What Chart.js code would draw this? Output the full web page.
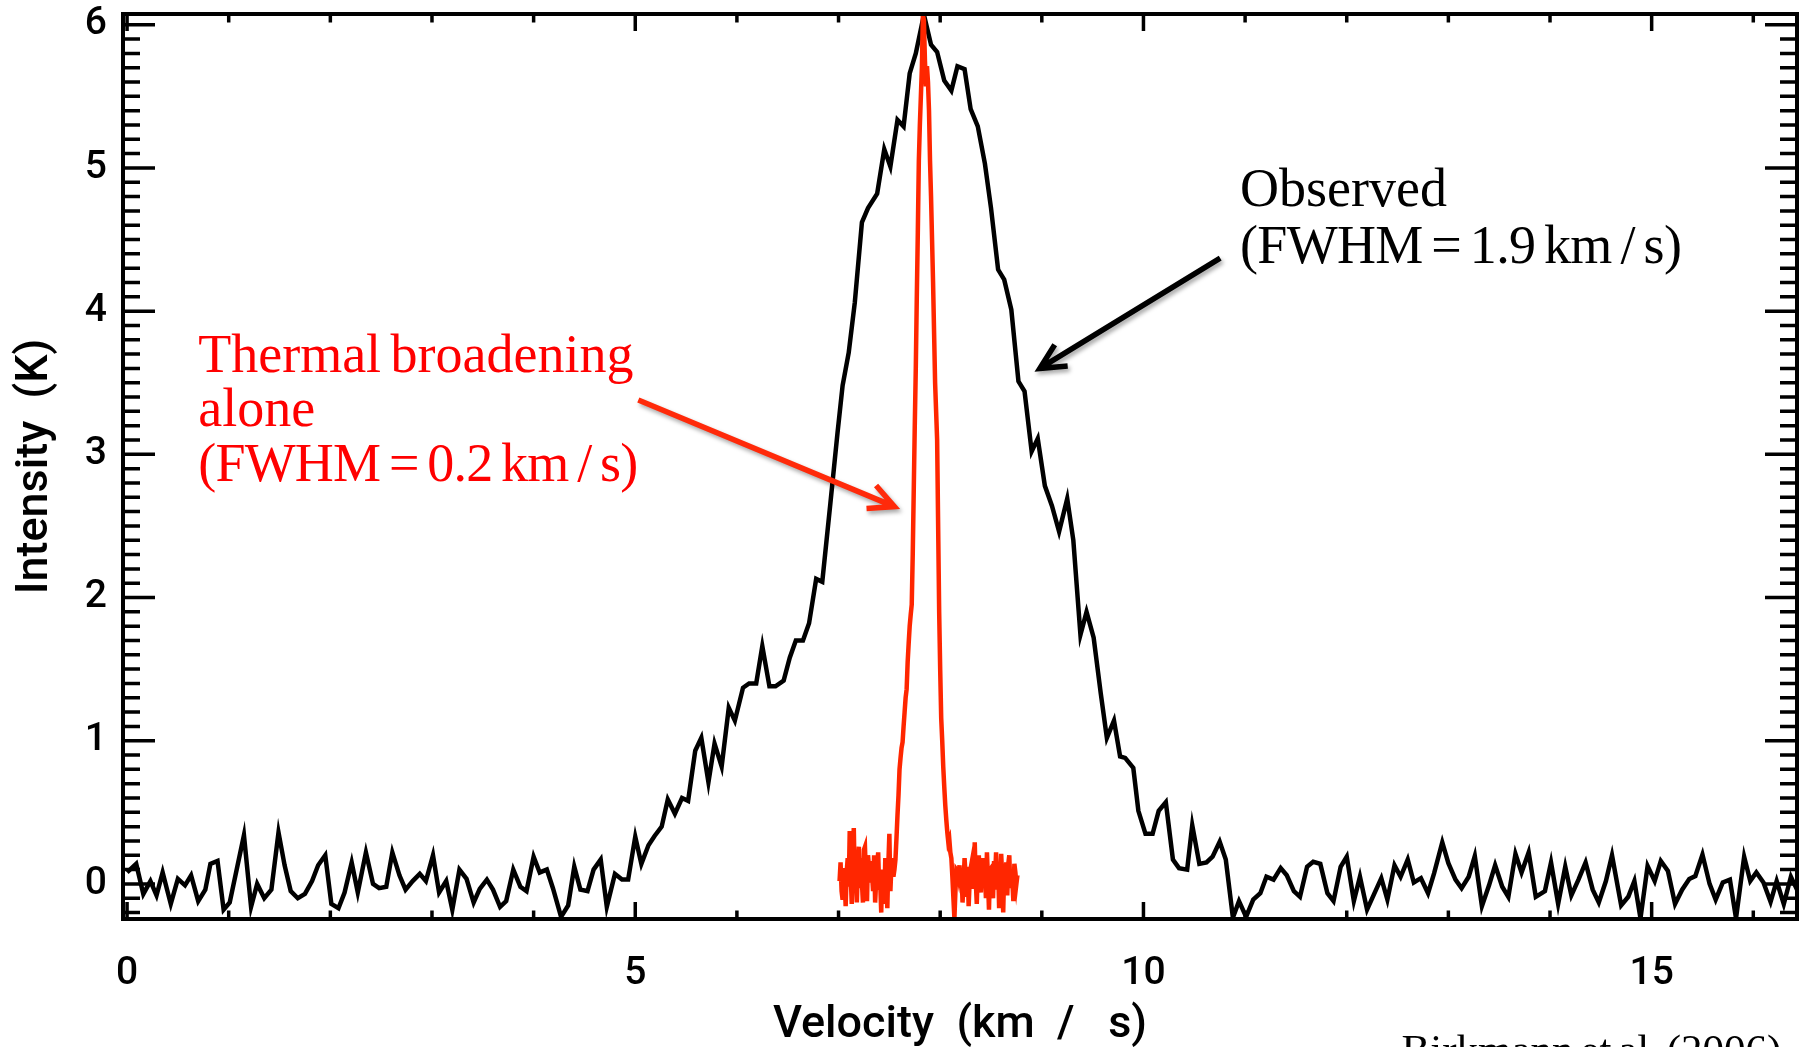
<!DOCTYPE html>
<html>
<head>
<meta charset="utf-8">
<title>Observed line vs thermal broadening</title>
<script src="https://cdn.jsdelivr.net/npm/chart.js@4.4.1/dist/chart.umd.min.js"></script>
<style>
  html, body { margin: 0; padding: 0; background: #fff; }
  #wrap { width: 1808px; height: 1047px; position: relative; }
</style>
</head>
<body>
<div id="wrap"><canvas id="spec"></canvas></div>
<script>
// observed spectrum (velocity km/s, intensity K)
const obsVel = [
  0.00,0.09,0.16,0.23,0.29,0.35,0.43,0.50,0.57,0.63,0.70,0.77,0.82,0.89,0.95,1.01,1.15,1.22,1.28,1.35,
  1.42,1.49,1.55,1.61,1.68,1.75,1.82,1.88,1.95,2.01,2.08,2.14,2.21,2.27,2.35,2.42,2.48,2.55,2.61,2.68,
  2.74,2.81,2.88,2.94,3.01,3.07,3.14,3.20,3.27,3.34,3.41,3.47,3.54,3.60,3.67,3.73,3.80,3.87,3.93,4.00,
  4.06,4.13,4.19,4.27,4.34,4.40,4.46,4.53,4.59,4.66,4.72,4.80,4.87,4.93,5.00,5.06,5.13,5.19,5.26,5.32,
  5.39,5.46,5.52,5.59,5.65,5.72,5.78,5.85,5.92,5.98,6.06,6.12,6.19,6.25,6.32,6.38,6.46,6.52,6.58,6.65,
  6.71,6.78,6.84,6.92,6.99,7.04,7.10,7.16,7.23,7.29,7.38,7.45,7.51,7.58,7.64,7.70,7.76,7.84,7.91,7.97,
  8.04,8.11,8.17,8.24,8.30,8.37,8.44,8.50,8.57,8.63,8.70,8.77,8.83,8.90,8.96,9.03,9.10,9.17,9.25,9.31,
  9.38,9.44,9.51,9.58,9.64,9.71,9.77,9.82,9.90,9.95,10.02,10.09,10.15,10.22,10.29,10.35,10.43,10.48,10.55,10.62,
  10.68,10.75,10.81,10.88,10.94,11.01,11.08,11.15,11.21,11.28,11.35,11.41,11.48,11.54,11.61,11.67,11.74,11.81,11.87,11.94,
  12.00,12.07,12.13,12.20,12.27,12.34,12.40,12.47,12.53,12.60,12.66,12.73,12.80,12.86,12.94,13.00,13.07,13.13,13.20,13.26,
  13.33,13.40,13.46,13.53,13.59,13.66,13.72,13.79,13.86,13.95,14.01,14.08,14.15,14.21,14.28,14.35,14.42,14.48,14.55,14.61,
  14.70,14.77,14.83,14.89,14.96,15.03,15.09,15.16,15.23,15.30,15.37,15.43,15.50,15.57,15.63,15.70,15.77,15.83,15.91,15.97,
  16.03,16.10,16.17,16.23,16.30,16.37,16.43
];
const obsInt = [
  0.08,0.14,-0.07,0.02,-0.08,0.08,-0.14,0.035,-0.01,0.06,-0.12,-0.04,0.14,0.16,-0.18,-0.13,0.34,-0.16,0.00,-0.10,
  -0.04,0.36,0.13,-0.05,-0.10,-0.07,0.02,0.13,0.20,-0.14,-0.17,-0.06,0.15,-0.06,0.22,0.00,-0.03,-0.02,0.22,0.06,
  -0.04,0.02,0.07,0.02,0.20,-0.06,0.02,-0.18,0.10,0.035,-0.13,-0.035,0.03,-0.04,-0.16,-0.12,0.10,-0.02,-0.05,0.19,
  0.08,0.10,-0.03,-0.23,-0.15,0.12,-0.04,-0.05,0.10,0.17,-0.16,0.07,0.03,0.03,0.33,0.14,0.27,0.335,0.40,0.59,
  0.49,0.60,0.58,0.93,1.02,0.71,0.98,0.82,1.23,1.14,1.37,1.40,1.40,1.66,1.38,1.38,1.42,1.58,1.70,1.70,
  1.82,2.13,2.11,2.66,3.15,3.48,3.71,4.06,4.62,4.72,4.82,5.13,5.01,5.335,5.29,5.66,5.80,6.07,5.86,5.81,
  5.61,5.54,5.71,5.69,5.41,5.29,5.03,4.72,4.29,4.22,4.01,3.51,3.44,3.02,3.11,2.78,2.64,2.46,2.69,2.40,
  1.74,1.90,1.72,1.33,1.02,1.14,0.89,0.88,0.81,0.51,0.35,0.35,0.51,0.57,0.17,0.11,0.10,0.41,0.14,0.15,
  0.19,0.295,0.17,-0.235,-0.12,-0.23,-0.11,-0.065,0.05,0.03,0.11,0.06,-0.05,-0.09,0.12,0.155,0.14,-0.065,-0.12,0.12,
  0.19,-0.12,0.05,-0.18,-0.07,0.04,-0.11,0.13,0.05,0.17,0.01,0.04,-0.065,0.075,0.29,0.145,0.03,-0.03,0.05,0.195,
  -0.155,-0.01,0.13,-0.02,-0.09,0.21,0.08,0.22,-0.09,-0.05,0.15,-0.14,0.12,-0.08,0.03,0.15,-0.04,-0.13,0.02,0.20,
  -0.15,-0.09,0.02,-0.24,0.125,0.02,0.16,0.09,-0.14,-0.04,0.035,0.055,0.205,0.00,-0.11,0.01,0.03,-0.24,0.19,0.02,
  0.08,0.01,-0.125,0.02,-0.14,0.05,-0.04
];

// thermal-only profile: channels start at 7.01 km/s, 0.01 km/s apart
const thermalStart = 7.01;
const thermalStep = 0.01;
const thermalInt = [
  // 7.01 - 7.55
  0.02,0.15,-0.05,-0.11,0.11,0.03,-0.155,0.08,0.18,-0.02,
  0.37,0.05,-0.14,0.2,0.39,0.0,0.06,-0.13,0.12,0.26,
  -0.03,0.18,0.01,-0.13,0.24,0.26,0.04,-0.12,0.2,0.11,
  0.01,0.16,0.06,-0.05,0.2,-0.13,0.02,0.13,0.22,-0.04,
  0.01,-0.2,0.1,0.06,-0.14,0.18,0.03,-0.17,0.14,0.35,
  -0.05,0.12,0.18,0.05,0.1,
  // 7.56 - 8.17
  0.17,0.32,0.48,0.62,0.80,0.88,0.95,0.99,1.10,1.20,
  1.30,1.36,1.55,1.68,1.80,1.88,1.95,2.30,2.75,3.20,
  3.60,4.10,4.55,5.05,5.30,5.50,5.70,6.07,6.03,5.75,
  5.57,5.71,5.60,5.40,5.05,4.80,4.50,4.20,3.85,3.50,
  3.30,3.10,2.50,1.90,1.50,1.16,1.00,0.82,0.68,0.55,
  0.45,0.36,0.29,0.31,0.22,0.18,0.05,-0.10,-0.24,-0.05,
  0.10,0.09,
  // 8.18 - 8.76
  0.05,0.13,-0.02,0.08,-0.13,0.01,0.18,0.06,-0.09,0.12,
  -0.155,0.02,0.11,0.15,-0.035,0.05,0.29,0.02,-0.14,0.1,
  0.2,0.06,-0.06,0.12,0.18,-0.02,0.08,-0.1,0.22,0.04,
  -0.18,0.1,0.11,0.0,-0.1,0.16,0.05,0.22,-0.04,0.12,
  -0.17,0.02,0.21,0.06,-0.2,0.1,0.04,0.15,-0.08,0.14,
  0.2,-0.03,0.1,0.02,-0.12,0.14,0.08,0.0,0.06
];

const xMajorTicks = [0, 5, 10, 15];
const yMajorTicks = [0, 1, 2, 3, 4, 5, 6];

// annotation text, anchored in data coordinates
const notes = [
  { text: 'Thermal broadening', x: 0.70, y: 3.575, color: '#ff0000', size: 54, tight: 0 },
  { text: 'alone', x: 0.70, y: 3.198, color: '#ff0000', size: 54, tight: 0 },
  { text: '(FWHM = 0.2 km / s)', x: 0.70, y: 2.814, color: '#ff0000', size: 54, tight: 0.8 },
  { text: 'Observed', x: 10.95, y: 4.735, color: '#000000', size: 54, tight: 0 },
  { text: '(FWHM = 1.9 km / s)', x: 10.95, y: 4.337, color: '#000000', size: 54, tight: 0.7 },
  { text: 'Birkmann et al. (2006)', x: 12.54, y: -1.257, color: '#000000', size: 43, tight: 0 }
];
const arrows = [
  { from: [5.03, 3.38], to: [7.55, 2.635], color: '#ff2a0a' },
  { from: [10.755, 4.37], to: [8.98, 3.60], color: '#000000' }
];

const obsPoints = obsVel.map((v, i) => ({ x: v, y: obsInt[i] }));
const thermalPoints = thermalInt.map((t, i) => ({ x: thermalStart + i * thermalStep, y: t }));

// IDL-style box with inward ticks on all four sides
const frameTicks = {
  id: 'frameTicks',
  afterDatasetsDraw(chart) {
    const { ctx, chartArea: a, scales: { x, y } } = chart;
    ctx.save();
    ctx.strokeStyle = '#000';
    ctx.lineWidth = 3.5;
    ctx.beginPath();
    for (let v = 0; v <= 16; v++) {
      const px = x.getPixelForValue(v);
      const len = v % 5 === 0 ? 17 : 8.5;
      ctx.moveTo(px, a.bottom); ctx.lineTo(px, a.bottom - len);
      ctx.moveTo(px, a.top); ctx.lineTo(px, a.top + len);
    }
    for (let k = -2; k <= 60; k++) {
      const py = y.getPixelForValue(k / 10);
      const len = k % 10 === 0 ? 32 : 17;
      ctx.moveTo(a.left, py); ctx.lineTo(a.left + len, py);
      ctx.moveTo(a.right, py); ctx.lineTo(a.right - len, py);
    }
    ctx.stroke();
    ctx.lineWidth = 4;
    ctx.strokeRect(a.left, a.top, a.right - a.left, a.bottom - a.top);
    ctx.restore();
  }
};

const callouts = {
  id: 'callouts',
  afterDraw(chart) {
    const { ctx, scales: { x, y } } = chart;
    ctx.save();
    ctx.textBaseline = 'alphabetic';
    ctx.textAlign = 'left';
    if ('wordSpacing' in ctx) ctx.wordSpacing = '-4px';
    notes.forEach(n => {
      ctx.font = n.size + 'px "Liberation Serif", "DejaVu Serif", serif';
      if ('letterSpacing' in ctx) ctx.letterSpacing = (-n.tight) + 'px';
      ctx.fillStyle = n.color;
      ctx.fillText(n.text, x.getPixelForValue(n.x), y.getPixelForValue(n.y));
    });
    arrows.forEach(ar => {
      const x0 = x.getPixelForValue(ar.from[0]), y0 = y.getPixelForValue(ar.from[1]);
      const x1 = x.getPixelForValue(ar.to[0]), y1 = y.getPixelForValue(ar.to[1]);
      const back = Math.atan2(y0 - y1, x0 - x1);
      const head = 28, spread = 0.46;
      ctx.shadowColor = 'rgba(0,0,0,0.35)';
      ctx.shadowBlur = 4;
      ctx.shadowOffsetX = 2;
      ctx.shadowOffsetY = 3;
      ctx.strokeStyle = ar.color;
      ctx.lineWidth = 5.5;
      ctx.lineCap = 'butt';
      ctx.lineJoin = 'miter';
      ctx.beginPath();
      ctx.moveTo(x0, y0); ctx.lineTo(x1, y1);
      ctx.moveTo(x1 + head * Math.cos(back + spread), y1 + head * Math.sin(back + spread));
      ctx.lineTo(x1, y1);
      ctx.lineTo(x1 + head * Math.cos(back - spread), y1 + head * Math.sin(back - spread));
      ctx.stroke();
    });
    ctx.restore();
  }
};

new Chart(document.getElementById('spec'), {
  type: 'line',
  data: {
    datasets: [
      {
        label: 'Thermal broadening alone',
        data: thermalPoints,
        borderColor: '#ff2600',
        borderWidth: 4.5,
        pointRadius: 0,
        tension: 0,
        order: 0
      },
      {
        label: 'Observed',
        data: obsPoints,
        borderColor: '#000000',
        borderWidth: 4.5,
        borderJoinStyle: 'miter',
        pointRadius: 0,
        tension: 0,
        order: 1
      }
    ]
  },
  options: {
    responsive: true,
    maintainAspectRatio: false,
    animation: false,
    events: [],
    layout: { padding: { top: 14, right: 11, left: 0, bottom: 0 } },
    plugins: { legend: { display: false }, tooltip: { enabled: false } },
    scales: {
      x: {
        type: 'linear',
        min: -0.04,
        max: 16.43,
        grid: { display: false, drawTicks: false },
        border: { display: false },
        ticks: { color: '#000', font: { family: 'Roboto', size: 39, weight: 500 }, padding: 32, maxRotation: 0, autoSkip: false },
        afterBuildTicks: s => { s.ticks = xMajorTicks.map(v => ({ value: v })); },
        afterFit: s => { s.height = 128; s.paddingLeft = 0; s.paddingRight = 0; },
        title: {
          display: true,
          text: 'Velocity  (km  /   s)',
          color: '#000',
          font: { family: 'Roboto', size: 45, weight: 500, lineHeight: 0.9 },
          padding: { top: 1, bottom: 1 }
        }
      },
      y: {
        type: 'linear',
        min: -0.245,
        max: 6.075,
        grid: { display: false, drawTicks: false },
        border: { display: false },
        ticks: { color: '#000', font: { family: 'Roboto', size: 39, weight: 500 }, padding: 16, autoSkip: false },
        afterBuildTicks: s => { s.ticks = yMajorTicks.map(v => ({ value: v })); },
        afterFit: s => { s.width = 123; s.paddingTop = 0; s.paddingBottom = 0; },
        title: {
          display: true,
          text: 'Intensity  (K)',
          color: '#000',
          font: { family: 'Roboto', size: 45, weight: 500 },
          padding: { top: 9, bottom: 0 }
        }
      }
    }
  },
  plugins: [frameTicks, callouts]
});
</script>
</body>
</html>
